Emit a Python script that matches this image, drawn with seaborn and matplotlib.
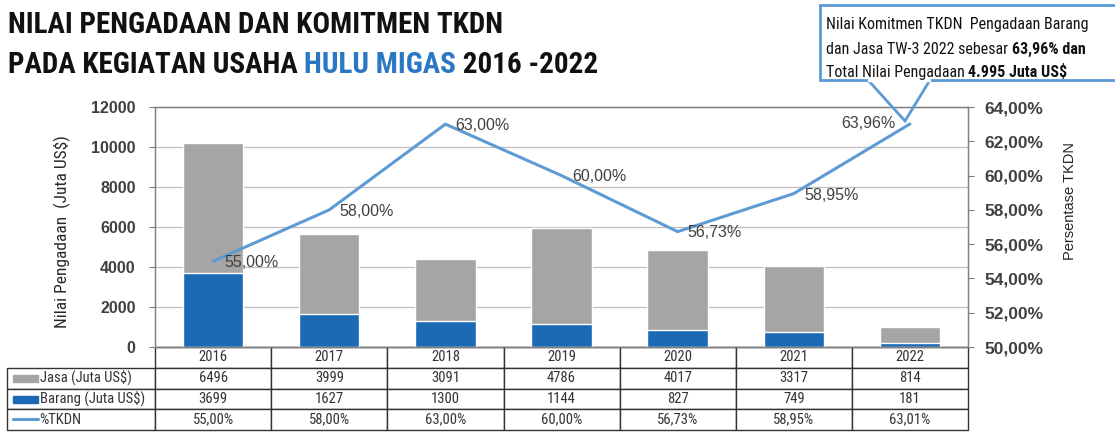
import os
import matplotlib.pyplot as plt
import seaborn as sns
import pandas as pd
from matplotlib import font_manager as fm
from matplotlib.patches import Rectangle, Polygon
from matplotlib.lines import Line2D

# ---------------- data ----------------
years = ["2016", "2017", "2018", "2019", "2020", "2021", "2022"]
jasa = [6496, 3999, 3091, 4786, 4017, 3317, 814]
barang = [3699, 1627, 1300, 1144, 827, 749, 181]
tkdn = [55.00, 58.00, 63.00, 60.00, 56.73, 58.95, 63.01]
tkdn_labels = ["55,00%", "58,00%", "63,00%", "60,00%", "56,73%", "58,95%", "63,96%"]
left_ticks = [0, 2000, 4000, 6000, 8000, 10000, 12000]
right_ticks = [50, 52, 54, 56, 58, 60, 62, 64]
row_labels = ["Jasa (Juta US$)", "Barang (Juta US$)", "%TKDN"]

# where the line labels sit relative to their point (pixels)
label_offsets = [(38, -1), (37, -2), (37, -1), (38, -1), (37, -1), (38, -2), (-42, 0)]

GRAY = "#a5a5a5"
BLUE = "#1c6ab4"
LINE = "#5f9bd3"
DARK = "#404040"

sns.set_style("white")
plt.rcParams["font.family"] = ["Liberation Sans", "DejaVu Sans"]


# look for a narrow font, otherwise fall back to Liberation Sans
def find_font(patterns):
    for pat in patterns:
        for f in fm.fontManager.ttflist:
            if os.path.basename(f.fname).lower().startswith(pat.lower()):
                return f.fname
    return None


bold_path = find_font(["LiberationSansNarrow-Bold.", "RobotoCondensed-Bold.",
                       "DejaVuSansCondensed-Bold.", "OpenSans_Condensed-Bold.",
                       "OpenSansCondensed-Bold.", "LiberationSans-Bold."])
reg_path = find_font(["LiberationSansNarrow-Regular.", "RobotoCondensed-Regular.",
                      "DejaVuSansCondensed.", "OpenSans_Condensed-Regular.",
                      "LiberationSans-Regular."])
FB = fm.FontProperties(fname=bold_path) if bold_path else fm.FontProperties(family="DejaVu Sans", weight="bold")
FR = fm.FontProperties(fname=reg_path) if reg_path else fm.FontProperties(family="DejaVu Sans")

W, H = 1115, 438
fig = plt.figure(figsize=(W / 100, H / 100), dpi=100)
renderer = fig.canvas.get_renderer()


def px(x, y):
    return x / W, 1 - y / H


def pct(v):
    return f"{v:.2f}%".replace(".", ",")


def text_w(s, fp, size):
    t = fig.text(0, 0, s, fontproperties=fp, fontsize=size)
    w = t.get_window_extent(renderer).width
    t.remove()
    return w


def fit_size(s, fp, target_w, max_size):
    return min(max_size, 10 * target_w / text_w(s, fp, 10))


ax = fig.add_axes([155 / W, 1 - 347 / H, 813 / W, 240 / H])
df = pd.DataFrame({"Tahun": years, "Jasa": jasa, "Barang": barang})
df["Total"] = df["Jasa"] + df["Barang"]
sns.barplot(data=df, x="Tahun", y="Total", color=GRAY, width=0.52,
            saturation=1, ax=ax)
sns.barplot(data=df, x="Tahun", y="Barang", color=BLUE, width=0.52,
            saturation=1, ax=ax)
ax.set_xlim(-0.5, len(years) - 0.5)
ax.set_ylim(0, 12000)
ax.set_yticks(left_ticks)
ax.set_yticklabels([str(t) for t in left_ticks], fontsize=11.5,
                   fontweight="bold", color=DARK)
ax.set_xticks([])
ax.set_xlabel("")
ax.set_ylabel("")
ax.yaxis.grid(True, color="#bfbfbf", lw=0.9)
ax.set_axisbelow(True)
ax.tick_params(axis="y", length=4, color="#7f7f7f", pad=10)
for s in ax.spines.values():
    s.set_color("#7f7f7f")
    s.set_linewidth(0.9)

ax2 = ax.twinx()
sns.lineplot(x=list(range(len(years))), y=tkdn, ax=ax2, color=LINE, lw=2.2)
ax2.set_ylim(50, 64)
ax2.set_yticks(right_ticks)
ax2.set_yticklabels([pct(t) for t in right_ticks], fontsize=12.5,
                    fontweight="bold", color=DARK)
ax2.tick_params(axis="y", length=4, color="#7f7f7f", pad=8)
for s in ax2.spines.values():
    s.set_color("#7f7f7f")
    s.set_linewidth(0.9)
for i, v in enumerate(tkdn):
    ax2.annotate(tkdn_labels[i], (i, v), xytext=label_offsets[i],
                 textcoords="offset pixels", ha="center", va="center",
                 fontsize=11.5, color=DARK)

# axis titles
fig.text(*px(62, 232), "Nilai Pengadaan  (Juta US$)", rotation=90,
         ha="center", va="center", fontproperties=FR, fontsize=12.5,
         color="#262626")
fig.text(*px(1070, 201), "Persentase TKDN", rotation=90, ha="center",
         va="center", fontsize=10.5, color="#262626")

# ---------------- table ----------------
cell_text = [[""] + years,
             [row_labels[0]] + [str(v) for v in jasa],
             [row_labels[1]] + [str(v) for v in barang],
             [row_labels[2]] + [pct(v) for v in tkdn]]
cell_text[3][-1] = "63,01%"
col_w = [148] + [116] * len(years)
tbl = ax.table(cellText=cell_text, colWidths=col_w, cellLoc="center",
               bbox=[(7 - 155) / 813, -(430 - 347) / 240, (968 - 7) / 813,
                     83 / 240])
tbl.auto_set_font_size(False)
lab_size = fit_size(row_labels[1], FR, 111, 10.5)
for (r, c), cell in tbl.get_celld().items():
    cell.set_edgecolor("#333333")
    cell.set_linewidth(1.0)
    txt = cell.get_text()
    txt.set_fontproperties(FR)
    txt.set_color("#333333")
    txt.set_fontsize(10.5)
    if c == 0:
        txt.set_fontsize(lab_size)
        txt.set_ha("left")
        cell._loc = "left"
        cell.PAD = 0.22
    if r == 0 and c == 0:
        cell.visible_edges = ""

# legend swatches in label column
fig.add_artist(Rectangle(px(13, 382), 25 / W, 7 / H, color=GRAY,
                         transform=fig.transFigure))
fig.add_artist(Rectangle(px(13, 403), 25 / W, 7 / H, color=BLUE,
                         transform=fig.transFigure))
fig.add_artist(Line2D([13 / W, 38 / W], [1 - 419 / H, 1 - 419 / H],
                      color=LINE, lw=2.2, transform=fig.transFigure))

# ---------------- title ----------------
title1 = "NILAI PENGADAAN DAN KOMITMEN TKDN"
tsize = fit_size(title1, FB, 527, 21)
fig.text(*px(8, 33), title1, fontproperties=FB, fontsize=tsize,
         va="baseline", color="#111111")
parts = [("PADA KEGIATAN USAHA ", "#111111"), ("HULU MIGAS", "#2a78c2"),
         (" 2016 -2022", "#111111")]
cur = 8 / W
for txt, col in parts:
    t = fig.text(cur, 1 - 73 / H, txt, fontproperties=FB, fontsize=tsize,
                 va="baseline", color=col)
    cur += t.get_window_extent(renderer).width / W

# ---------------- callout ----------------
fig.add_artist(Polygon([px(868, 80), px(905, 121), px(930, 80)], closed=False,
                       fill=False, edgecolor="#5b9bd5", lw=2,
                       transform=fig.transFigure))
fig.add_artist(Rectangle(px(820, 80), (1125 - 820) / W, 75 / H,
                         facecolor="white", edgecolor="#5b9bd5", lw=2,
                         transform=fig.transFigure))
fig.add_artist(Line2D([869 / W, 929 / W], [1 - 80 / H, 1 - 80 / H],
                      color="white", lw=2.5, transform=fig.transFigure))
call1 = "Nilai Komitmen TKDN  Pengadaan Barang"
call2 = "dan Jasa TW-3 2022 sebesar 63,96% dan"
csize = fit_size(call1, FR, 286, 11.5)
fig.text(*px(826, 29), call1, fontproperties=FR, fontsize=csize,
         va="baseline", color="#111111")
t2a = fig.text(*px(826, 54), "dan Jasa TW-3 2022 sebesar ", fontproperties=FR,
               fontsize=csize, va="baseline", color="#111111")
w2a = t2a.get_window_extent(renderer).width
fig.text(826 / W + w2a / W, 1 - 54 / H, "63,96% dan", fontproperties=FB,
         fontsize=csize, va="baseline", color="#111111")
t3 = fig.text(*px(826, 77), "Total Nilai Pengadaan ", fontproperties=FR,
              fontsize=csize, va="baseline", color="#111111")
w3 = t3.get_window_extent(renderer).width
fig.text(826 / W + w3 / W, 1 - 77 / H, "4.995 Juta US$", fontproperties=FB,
         fontsize=csize, va="baseline", color="#111111")

fig.savefig("out.png", dpi=100)
